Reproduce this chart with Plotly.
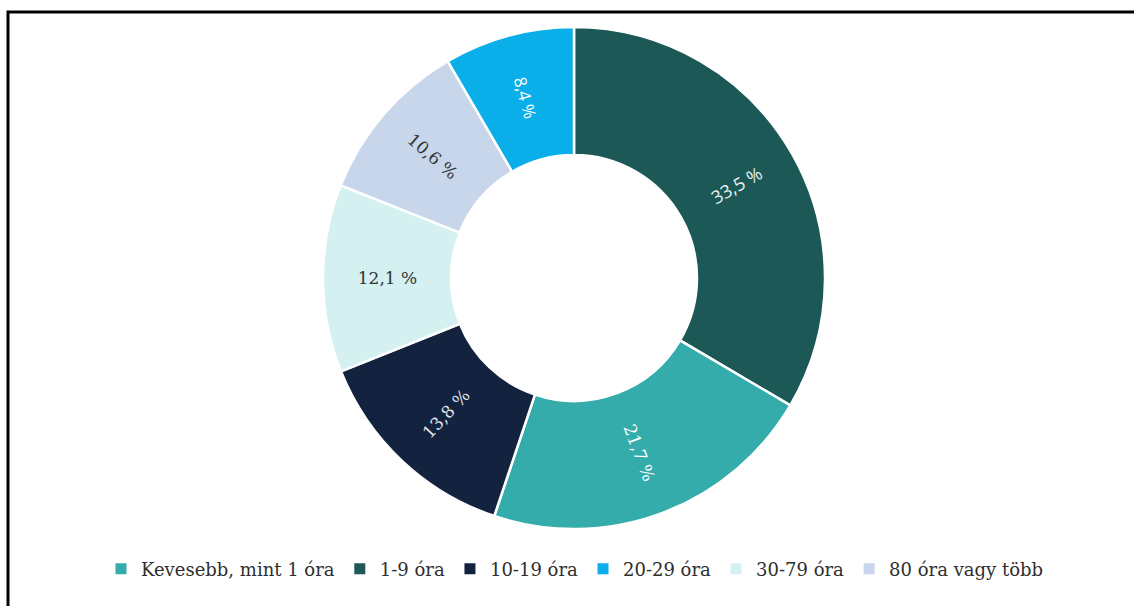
import math
import plotly.graph_objects as go

# Slices in drawing order (clockwise from 12 o'clock)
slice_labels = ["1-9 óra", "Kevesebb, mint 1 óra", "10-19 óra",
                "30-79 óra", "80 óra vagy több", "20-29 óra"]
slice_values = [33.5, 21.7, 13.8, 12.1, 10.6, 8.4]

# Legend order
legend_labels = ["Kevesebb, mint 1 óra", "1-9 óra", "10-19 óra",
                 "20-29 óra", "30-79 óra", "80 óra vagy több"]

colors = {
    "Kevesebb, mint 1 óra": "#33acab",
    "1-9 óra": "#1b5856",
    "10-19 óra": "#13233f",
    "20-29 óra": "#0aaee8",
    "30-79 óra": "#d4f0f0",
    "80 óra vagy több": "#c7d6ea",
}
text_colors = {
    "Kevesebb, mint 1 óra": "white",
    "1-9 óra": "#e8f0f0",
    "10-19 óra": "#e0e4ea",
    "20-29 óra": "white",
    "30-79 óra": "#333333",
    "80 óra vagy több": "#333333",
}
text_fonts = {
    "Kevesebb, mint 1 óra": "DejaVu Serif",
    "1-9 óra": "Open Sans",
    "10-19 óra": "DejaVu Serif",
    "20-29 óra": "Open Sans",
    "30-79 óra": "DejaVu Serif",
    "80 óra vagy több": "DejaVu Serif",
}

W, H = 1134, 606
cx, cy, R = 574, 278, 251
HOLE = 0.49

# The largest slice gets a radially rotated label placed by hand,
# since plotly would lay it flat where the slice crosses 3 o'clock.
big = 0
templates = ["%{value:.1f} %"] * len(slice_values)
templates[big] = ""

fig = go.Figure()

fig.add_trace(go.Pie(
    labels=slice_labels,
    values=slice_values,
    sort=False,
    direction="clockwise",
    rotation=0,
    hole=HOLE,
    marker=dict(colors=[colors[l] for l in slice_labels],
                line=dict(color="white", width=2.5)),
    texttemplate=templates,
    textposition="inside",
    insidetextorientation="radial",
    textfont=dict(size=17,
                  color=[text_colors[l] for l in slice_labels],
                  family=[text_fonts[l] for l in slice_labels]),
    showlegend=False,
    hoverinfo="label+value",
    domain=dict(x=[(cx - R) / W, (cx + R) / W],
                y=[1 - (cy + R) / H, 1 - (cy - R) / H]),
))

# Radial label for the largest slice, at the middle of the ring
total = sum(slice_values)
start = sum(slice_values[:big]) / total * 360
mid = start + slice_values[big] / total * 360 / 2
r_mid = R * (1 + HOLE) / 2
lx = cx + r_mid * math.sin(math.radians(mid))
ly = cy - r_mid * math.cos(math.radians(mid))
angle = mid - 90
big_text = f"{slice_values[big]:.1f}".replace(".", ",") + " %"

# Legend entries as square markers
for lab in legend_labels:
    fig.add_trace(go.Scatter(
        x=[None], y=[None], mode="markers", name=lab,
        marker=dict(symbol="square", size=11, color=colors[lab]),
    ))

fig.update_layout(
    width=W, height=H,
    margin=dict(l=0, r=0, t=0, b=0),
    paper_bgcolor="white",
    plot_bgcolor="white",
    separators=", ",
    xaxis=dict(visible=False),
    yaxis=dict(visible=False),
    legend=dict(
        orientation="h",
        x=(117 - 16) / W, xanchor="left",
        y=1 - 569 / H, yanchor="middle",
        font=dict(family="DejaVu Serif", size=18, color="#2e2e2e"),
        itemclick=False,
        tracegroupgap=0,
    ),
    annotations=[dict(
        x=lx / W, y=1 - ly / H, xref="paper", yref="paper",
        xanchor="center", yanchor="middle",
        text=big_text, showarrow=False, textangle=angle,
        font=dict(family="Open Sans", size=18,
                  color=text_colors[slice_labels[big]]),
    )],
    shapes=[dict(
        type="rect", xref="paper", yref="paper",
        x0=8 / W, x1=1.3, y0=-0.3, y1=1 - 12 / H,
        line=dict(color="black", width=3),
        layer="above",
    )],
)

fig.write_html("out.html")
